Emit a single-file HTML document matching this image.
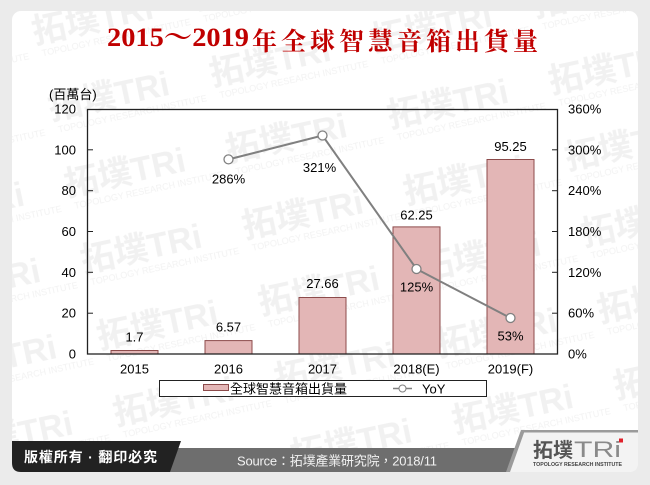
<!DOCTYPE html>
<html>
<head>
<meta charset="utf-8">
<style>
  html,body{margin:0;padding:0;background:#ebebeb;}
  body{width:650px;height:485px;overflow:hidden;}
  svg{display:block;}
  .ax{font-family:"Liberation Sans","Noto Sans CJK TC",sans-serif;font-size:13px;fill:#000;}
</style>
</head>
<body>
<svg width="650" height="485" viewBox="0 0 650 485" xmlns="http://www.w3.org/2000/svg">
  <defs>
    <pattern id="wm" x="0" y="0" width="165" height="78" patternUnits="userSpaceOnUse" patternTransform="rotate(-12) translate(20,10)">
      <text x="5" y="40" font-family="'Liberation Sans','Noto Sans CJK TC',sans-serif" font-weight="bold" font-size="34" fill="#f1f1f1">拓墣TRi</text>
      <text x="10" y="54" font-family="'Liberation Sans',sans-serif" font-size="9" fill="#f2f2f2">TOPOLOGY RESEARCH INSTITUTE</text>
    </pattern>
  </defs>
  <!-- card -->
  <rect x="12" y="11" width="626" height="461" rx="9" ry="9" fill="#ffffff"/>
  <rect x="12" y="11" width="626" height="461" rx="9" ry="9" fill="url(#wm)"/>

  <!-- title -->
  <text x="107" y="46" textLength="142" lengthAdjust="spacingAndGlyphs" font-family="'Liberation Serif','Noto Serif CJK SC',serif" font-weight="bold" font-size="26" fill="#c00000">2015～2019</text>
  <text x="252" y="50" textLength="286" lengthAdjust="spacing" font-family="'Liberation Serif','Noto Serif CJK SC',serif" font-weight="bold" font-size="25" fill="#c00000">年全球智慧音箱出貨量</text>

  <!-- unit -->
  <text class="ax" x="49" y="99">(百萬台)</text>

  <!-- bars -->
  <g fill="#e3b6b6" stroke="#8c4b4b" stroke-width="1">
    <rect x="111" y="350.5" width="47" height="3.5"/>
    <rect x="205" y="340.6" width="47" height="13.4"/>
    <rect x="299" y="297.5" width="47" height="56.5"/>
    <rect x="393" y="226.9" width="47" height="127.1"/>
    <rect x="487" y="159.5" width="47" height="194.5"/>
  </g>

  <!-- plot frame -->
  <rect x="87.5" y="109.5" width="470" height="244.5" fill="none" stroke="#222" stroke-width="1.3"/>
  <!-- ticks -->
  <g stroke="#222" stroke-width="1">
    <line x1="88" y1="313.2" x2="93" y2="313.2"/>
    <line x1="88" y1="272.3" x2="93" y2="272.3"/>
    <line x1="88" y1="231.5" x2="93" y2="231.5"/>
    <line x1="88" y1="190.7" x2="93" y2="190.7"/>
    <line x1="88" y1="149.8" x2="93" y2="149.8"/>
    <line x1="552" y1="313.2" x2="557" y2="313.2"/>
    <line x1="552" y1="272.3" x2="557" y2="272.3"/>
    <line x1="552" y1="231.5" x2="557" y2="231.5"/>
    <line x1="552" y1="190.7" x2="557" y2="190.7"/>
    <line x1="552" y1="149.8" x2="557" y2="149.8"/>
  </g>

  <!-- left axis labels -->
  <g class="ax" text-anchor="end">
    <text x="76" y="358.5">0</text>
    <text x="76" y="317.7">20</text>
    <text x="76" y="276.8">40</text>
    <text x="76" y="236">60</text>
    <text x="76" y="195.2">80</text>
    <text x="76" y="154.3">100</text>
    <text x="76" y="113.5">120</text>
  </g>
  <!-- right axis labels -->
  <g class="ax">
    <text x="568" y="358.5">0%</text>
    <text x="568" y="317.7">60%</text>
    <text x="568" y="276.8">120%</text>
    <text x="568" y="236">180%</text>
    <text x="568" y="195.2">240%</text>
    <text x="568" y="154.3">300%</text>
    <text x="568" y="113.5">360%</text>
  </g>
  <!-- x labels -->
  <g class="ax" text-anchor="middle">
    <text x="134.5" y="373.5">2015</text>
    <text x="228.5" y="373.5">2016</text>
    <text x="322.5" y="373.5">2017</text>
    <text x="416.5" y="373.5">2018(E)</text>
    <text x="510.5" y="373.5">2019(F)</text>
  </g>

  <!-- bar value labels -->
  <g class="ax" text-anchor="middle">
    <text x="134.5" y="341.5">1.7</text>
    <text x="228.5" y="331.5">6.57</text>
    <text x="322.5" y="288">27.66</text>
    <text x="416.5" y="219.5">62.25</text>
    <text x="510.5" y="151">95.25</text>
  </g>

  <!-- YoY line -->
  <polyline points="228.5,159.4 322.5,135.5 416.5,269 510.5,318" fill="none" stroke="#808080" stroke-width="2"/>
  <g fill="#ffffff" stroke="#808080" stroke-width="1.3">
    <circle cx="228.5" cy="159.4" r="4.5"/>
    <circle cx="322.5" cy="135.5" r="4.5"/>
    <circle cx="416.5" cy="269" r="4.5"/>
    <circle cx="510.5" cy="318" r="4.5"/>
  </g>
  <g class="ax" text-anchor="middle">
    <text x="228.5" y="183.5">286%</text>
    <text x="319.5" y="172">321%</text>
    <text x="416.5" y="291.5">125%</text>
    <text x="510.5" y="340.5">53%</text>
  </g>

  <!-- legend -->
  <rect x="159.5" y="380.5" width="327" height="16" fill="#ffffff" stroke="#222" stroke-width="1"/>
  <rect x="203.5" y="384.5" width="25" height="6" fill="#e3b6b6" stroke="#8c4b4b" stroke-width="1"/>
  <text class="ax" x="230" y="393.5">全球智慧音箱出貨量</text>
  <line x1="393" y1="388.5" x2="412" y2="388.5" stroke="#808080" stroke-width="1.5"/>
  <circle cx="402.5" cy="388.5" r="3.5" fill="#fff" stroke="#808080" stroke-width="1"/>
  <text class="ax" x="422" y="393.5">YoY</text>

  <!-- footer -->
  <path d="M523,431 L638,431 L638,463 Q638,472 629,472 L506,472 Z" fill="#f3f3f3"/>
  <rect x="523" y="430" width="115" height="2.5" fill="#9b9b9b"/>
  <polygon points="165,448 516,448 508,472 165,472" fill="#6e6e6e"/>
  <polygon points="521,430 525,430 510,472 506,472" fill="#9b9b9b"/>
  <path d="M12,441 L181,441 L170,472 L21,472 Q12,472 12,463 Z" fill="#222222"/>
  <text x="24" y="462" textLength="133" lengthAdjust="spacing" font-family="'Liberation Sans','Noto Sans CJK TC',sans-serif" font-weight="bold" font-size="14" fill="#ffffff">版權所有 · 翻印必究</text>
  <text x="237" y="465.5" textLength="200" lengthAdjust="spacing" font-family="'Liberation Sans','Noto Sans CJK TC',sans-serif" font-size="13" fill="#f2f2f2">Source：拓墣產業研究院，2018/11</text>

  <!-- logo -->
  <text x="533" y="457" textLength="40" lengthAdjust="spacingAndGlyphs" font-family="'Liberation Sans','Noto Sans CJK TC',sans-serif" font-weight="bold" font-size="20" fill="#555555">拓墣</text>
  <text x="574" y="457" textLength="47" lengthAdjust="spacingAndGlyphs" font-family="'Liberation Sans',sans-serif" font-size="22" fill="#8a8a8a">TRi</text>
  <rect x="619" y="438.5" width="4" height="4" fill="#e0202a"/>
  <text x="533" y="466" textLength="89" lengthAdjust="spacingAndGlyphs" font-family="'Liberation Sans',sans-serif" font-weight="bold" font-size="5.5" fill="#444444">TOPOLOGY RESEARCH INSTITUTE</text>
</svg>
</body>
</html>
